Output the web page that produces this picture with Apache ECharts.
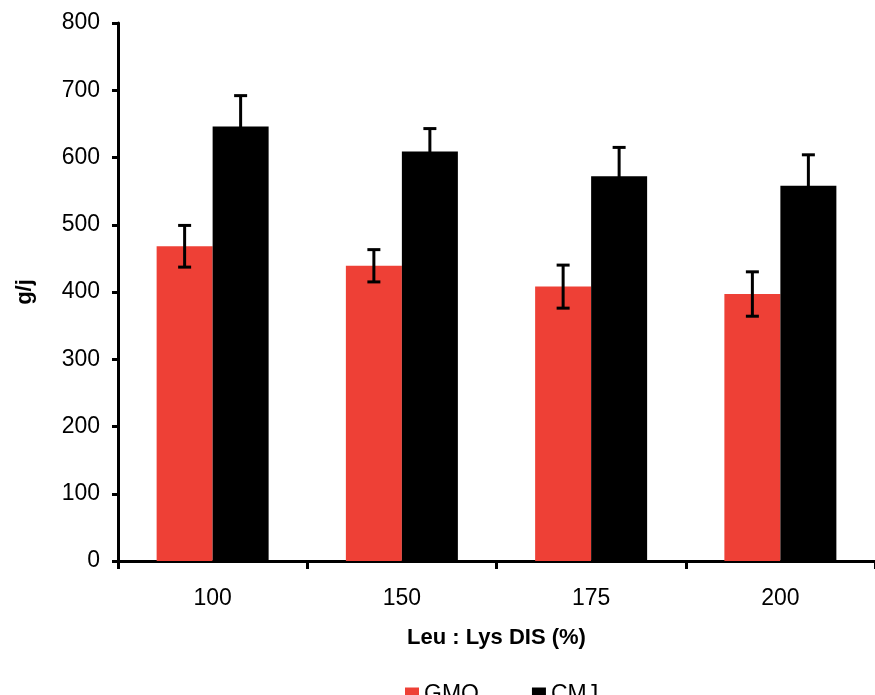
<!DOCTYPE html>
<html>
<head>
<meta charset="utf-8">
<script src="https://cdn.jsdelivr.net/npm/echarts@6/dist/echarts.min.js"></script>
<style>
  html, body { margin: 0; padding: 0; background: #fff; }
  #chart { width: 875px; height: 695px; }
</style>
</head>
<body>
<div id="chart"></div>
<script>
const categories = ['100', '150', '175', '200'];
const gmqValues = [468, 439, 408, 397];
const gmqErrors = [31, 24, 32, 33];
const cmjValues = [646, 609, 572, 558];
const cmjErrors = [46, 34, 43, 46];
const yTicks = { min: 0, max: 800, interval: 100 };
const seriesNames = ['GMQ', 'CMJ'];
const xAxisTitle = 'Leu : Lys DIS (%)';
const yAxisTitle = 'g/j';

const FONT = '"Liberation Sans", Arial, sans-serif';
const BAR_W = 56;

function errData(vals, errs) {
  return vals.map((v, i) => [i, v - errs[i], v + errs[i]]);
}

function errRenderer(offset) {
  return function (params, api) {
    const xi = api.value(0);
    const lo = api.coord([xi, api.value(1)]);
    const hi = api.coord([xi, api.value(2)]);
    const x = lo[0] + offset;
    const cap = 6.5;
    const style = { stroke: '#000', lineWidth: 3 };
    return {
      type: 'group',
      children: [
        { type: 'line', shape: { x1: x, y1: lo[1], x2: x, y2: hi[1] }, style },
        { type: 'line', shape: { x1: x - cap, y1: hi[1], x2: x + cap, y2: hi[1] }, style },
        { type: 'line', shape: { x1: x - cap, y1: lo[1], x2: x + cap, y2: lo[1] }, style }
      ]
    };
  };
}

const chart = echarts.init(document.getElementById('chart'), null, { renderer: 'canvas' });
chart.setOption({
  animation: false,
  backgroundColor: '#fff',
  textStyle: { fontFamily: FONT },
  grid: { left: 118, right: 0, top: 23, bottom: 134, containLabel: false },
  legend: {
    data: seriesNames,
    left: 400,
    top: 678,
    icon: 'rect',
    itemWidth: 14,
    itemHeight: 14,
    itemGap: 53,
    textStyle: { fontFamily: FONT, fontSize: 23, color: '#000' }
  },
  xAxis: {
    type: 'category',
    data: categories,
    name: xAxisTitle,
    nameLocation: 'middle',
    nameGap: 66,
    nameTextStyle: { fontFamily: FONT, fontSize: 22, fontWeight: 'bold', color: '#000' },
    axisLine: { lineStyle: { color: '#000', width: 3 } },
    axisTick: { show: true, alignWithLabel: false, length: 8, lineStyle: { color: '#000', width: 3 } },
    axisLabel: { fontFamily: FONT, fontSize: 23, color: '#000', margin: 26 },
    splitLine: { show: false }
  },
  yAxis: {
    type: 'value',
    min: yTicks.min,
    max: yTicks.max,
    interval: yTicks.interval,
    name: yAxisTitle,
    nameLocation: 'middle',
    nameGap: 82,
    nameRotate: 90,
    nameTextStyle: { fontFamily: FONT, fontSize: 22, fontWeight: 'bold', color: '#000' },
    axisLine: { show: true, lineStyle: { color: '#000', width: 3 } },
    axisTick: { show: true, length: 6, lineStyle: { color: '#000', width: 3 } },
    axisLabel: { fontFamily: FONT, fontSize: 23, color: '#000', margin: 18 },
    splitLine: { show: false }
  },
  series: [
    {
      name: seriesNames[0],
      type: 'bar',
      data: gmqValues,
      barWidth: BAR_W,
      barGap: '0%',
      itemStyle: { color: '#EE4036' }
    },
    {
      name: seriesNames[1],
      type: 'bar',
      data: cmjValues,
      barWidth: BAR_W,
      barGap: '0%',
      itemStyle: { color: '#000000' }
    },
    {
      name: 'GMQ error',
      type: 'custom',
      renderItem: errRenderer(-BAR_W / 2),
      data: errData(gmqValues, gmqErrors),
      encode: { x: 0, y: [1, 2] },
      z: 10,
      silent: true
    },
    {
      name: 'CMJ error',
      type: 'custom',
      renderItem: errRenderer(BAR_W / 2),
      data: errData(cmjValues, cmjErrors),
      encode: { x: 0, y: [1, 2] },
      z: 10,
      silent: true
    }
  ]
});
</script>
</body>
</html>
